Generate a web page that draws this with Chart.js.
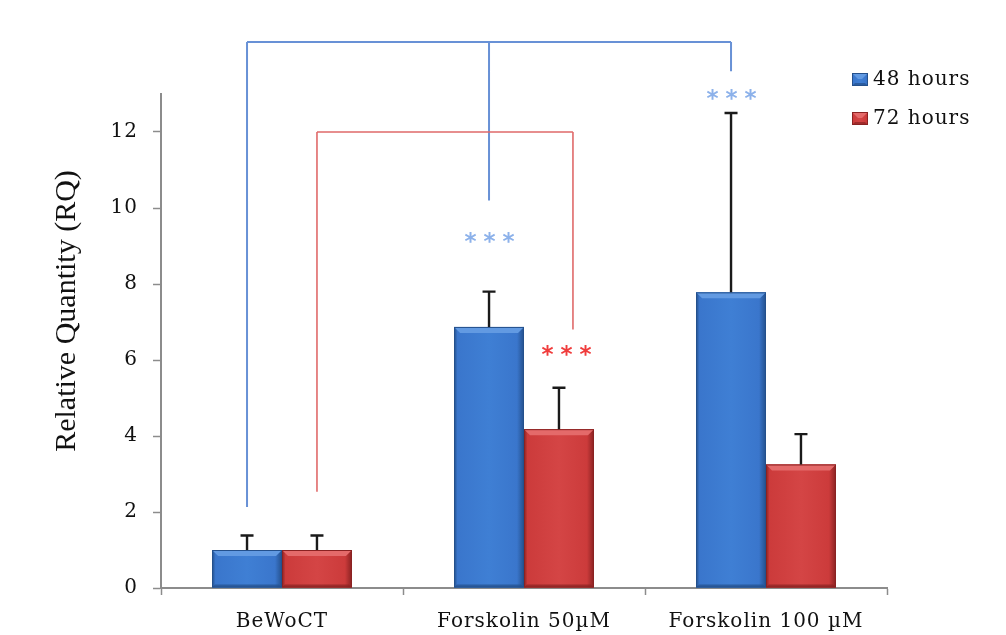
<!DOCTYPE html>
<html><head><meta charset="utf-8">
<script src="https://cdn.jsdelivr.net/npm/chart.js@4.4.0/dist/chart.umd.min.js"></script>
<style>html,body{margin:0;padding:0;background:#fff;overflow:hidden}#wrap{width:1006px;height:635px}</style>
</head><body><div id="wrap"><canvas id="c" width="1006" height="635"></canvas></div>
<script>
// ---- data ----
const categories = ['BeWoCT', 'Forskolin 50\u00b5M', 'Forskolin 100 \u00b5M'];
const seriesNames = ['48 hours', '72 hours'];
const values48 = [1.0, 6.87, 7.78];
const values72 = [1.0, 4.18, 3.25];
const err48 = [0.38, 0.93, 4.72];
const err72 = [0.38, 1.09, 0.80];
const yTicks = [0, 2, 4, 6, 8, 10, 12];
const yTitle = 'Relative Quantity (RQ)';
// significance brackets (value units): dataset, category legs
const bracketBlueTop = 14.37;
const bracketBlueLegs = [[0, 2.13], [1, 10.2], [2, 13.6]];
const bracketRedTop = 12.0;
const bracketRedLegs = [[0, 2.53], [1, 6.8]];
const starMarks = [[0, 1, 9.26], [0, 2, 13.03], [1, 1, 6.29]];

const palette = {
  blue: {mid:'#3a76cc', light:'#3f7fd4', dark:'#24508c', top:'#629ae2'},
  red:  {mid:'#cc3b3b', light:'#d44545', dark:'#8a2222', top:'#e46a6a'}
};
const errors = [err48, err72];
const values = [values48, values72];
const cols = [palette.blue, palette.red];

function bodyGrad(ctx, l, r, c) {
  const g = ctx.createLinearGradient(l, 0, r, 0);
  g.addColorStop(0, c.dark); g.addColorStop(0.05, c.mid);
  g.addColorStop(0.5, c.light); g.addColorStop(0.9, c.mid); g.addColorStop(1, c.dark);
  return g;
}
function drawBevelBar(ctx, l, r, t, b, c) {
  ctx.save();
  ctx.fillStyle = bodyGrad(ctx, l, r, c);
  ctx.fillRect(l, t, r - l, b - t);
  const bv = 6;
  ctx.beginPath();
  ctx.moveTo(l, t); ctx.lineTo(r, t); ctx.lineTo(r - bv, t + bv); ctx.lineTo(l + bv, t + bv); ctx.closePath();
  ctx.fillStyle = c.top; ctx.fill();
  ctx.beginPath();
  ctx.moveTo(l, b); ctx.lineTo(r, b); ctx.lineTo(r - 3, b - 3); ctx.lineTo(l + 3, b - 3); ctx.closePath();
  ctx.fillStyle = c.dark; ctx.globalAlpha = 0.7; ctx.fill();
  ctx.globalAlpha = 1;
  ctx.strokeStyle = c.dark; ctx.lineWidth = 1;
  ctx.strokeRect(l + 0.5, t + 0.5, r - l - 1, b - t - 1);
  ctx.restore();
}

const decor = {
  id: 'decor',
  beforeDraw(chart) { try { chart.ctx.letterSpacing = '1px'; } catch (e) {} },
  afterDatasetsDraw(chart) {
    const ctx = chart.ctx, y = chart.scales.y;
    for (let d = 0; d < 2; d++) {
      chart.getDatasetMeta(d).data.forEach(el => {
        drawBevelBar(ctx, el.x - el.width / 2, el.x + el.width / 2, el.y, el.base, cols[d]);
      });
    }
    ctx.save();
    ctx.strokeStyle = '#1a1a1a'; ctx.lineWidth = 2.4;
    for (let d = 0; d < 2; d++) {
      chart.getDatasetMeta(d).data.forEach((el, j) => {
        const yt = y.getPixelForValue(values[d][j] + errors[d][j]);
        ctx.beginPath();
        ctx.moveTo(el.x, el.y); ctx.lineTo(el.x, yt);
        ctx.moveTo(el.x - 6.5, yt); ctx.lineTo(el.x + 6.5, yt);
        ctx.stroke();
      });
    }
    ctx.restore();
  },
  afterDraw(chart) {
    const ctx = chart.ctx, y = chart.scales.y;
    const m0 = chart.getDatasetMeta(0).data, m1 = chart.getDatasetMeta(1).data;
    ctx.save();
    try { ctx.letterSpacing = '0px'; } catch (e) {}
    ctx.strokeStyle = '#6891d6'; ctx.lineWidth = 2;
    const yb = y.getPixelForValue(bracketBlueTop);
    ctx.beginPath();
    ctx.moveTo(m0[bracketBlueLegs[0][0]].x, yb);
    ctx.lineTo(m0[bracketBlueLegs[bracketBlueLegs.length - 1][0]].x, yb);
    bracketBlueLegs.forEach(([i, v]) => { ctx.moveTo(m0[i].x, yb); ctx.lineTo(m0[i].x, y.getPixelForValue(v)); });
    ctx.stroke();
    ctx.strokeStyle = '#e06a6a'; ctx.lineWidth = 1.6;
    const yr = y.getPixelForValue(bracketRedTop);
    const rx = bracketRedLegs.map(([i]) => m1[i].x + (i > 0 ? m1[i].width * 0.2 : 0));
    ctx.beginPath();
    ctx.moveTo(rx[0], yr); ctx.lineTo(rx[rx.length - 1], yr);
    bracketRedLegs.forEach(([i, v], k) => { ctx.moveTo(rx[k], yr); ctx.lineTo(rx[k], y.getPixelForValue(v)); });
    ctx.stroke();
    // stars
    ctx.font = 'bold 23px "DejaVu Sans"';
    ctx.textAlign = 'center'; ctx.textBaseline = 'alphabetic';
    try { ctx.letterSpacing = '7px'; } catch (e) {}
    starMarks.forEach(([d, i, v]) => {
      const el = chart.getDatasetMeta(d).data[i];
      const x = el.x + (d === 1 ? el.width * 0.1 : 0) + 4;
      ctx.fillStyle = d === 0 ? '#8cb1ea' : '#f03c3c';
      ctx.fillText('***', x, y.getPixelForValue(v) + 13);
    });
    // y title
    try { ctx.letterSpacing = '0px'; } catch (e) {}
    ctx.save();
    ctx.translate(67, 311); ctx.rotate(-Math.PI / 2);
    ctx.font = '30px "Liberation Serif"'; ctx.fillStyle = '#111';
    ctx.textAlign = 'center'; ctx.textBaseline = 'middle';
    ctx.fillText(yTitle, 0, 0);
    ctx.restore();
    // legend
    try { ctx.letterSpacing = '1px'; } catch (e) {}
    ctx.font = '20px "DejaVu Serif"'; ctx.textAlign = 'left'; ctx.textBaseline = 'middle';
    const lx = 852, ly = [79, 118];
    for (let d = 0; d < 2; d++) {
      drawBevelBar(ctx, lx, lx + 16, ly[d] - 6, ly[d] + 7, cols[d]);
      ctx.fillStyle = '#111';
      ctx.fillText(seriesNames[d], lx + 21, ly[d] + 1);
    }
    ctx.restore();
  }
};

new Chart(document.getElementById('c'), {
  type: 'bar',
  data: {
    labels: categories,
    datasets: [
      {label: seriesNames[0], data: values48, backgroundColor: palette.blue.mid, borderWidth: 0},
      {label: seriesNames[1], data: values72, backgroundColor: palette.red.mid, borderWidth: 0}
    ]
  },
  options: {
    responsive: false, animation: false, devicePixelRatio: 1,
    layout: {padding: {left: 0, top: 94, right: 119, bottom: 0}},
    datasets: {bar: {barPercentage: 1, categoryPercentage: 0.578}},
    plugins: {legend: {display: false}, tooltip: {enabled: false}, title: {display: false}},
    scales: {
      x: {
        grid: {display: true, drawOnChartArea: false, offset: true, color: '#8c8c8c', tickLength: 7, tickWidth: 1.5},
        border: {color: '#8c8c8c', width: 2},
        ticks: {font: {family: 'DejaVu Serif', size: 20}, color: '#111', padding: 15, maxRotation: 0, autoSkip: false},
        afterFit(s) { s.height = 47; }
      },
      y: {
        min: 0, max: 13,
        afterBuildTicks(s) { s.ticks = yTicks.map(v => ({value: v})); },
        ticks: {font: {family: 'DejaVu Serif', size: 20}, color: '#111', padding: 15},
        grid: {drawOnChartArea: false, color: '#8c8c8c', tickLength: 8, tickWidth: 1.5},
        border: {color: '#8c8c8c', width: 2},
        afterFit(s) { s.width = 161; }
      }
    }
  },
  plugins: [decor]
});
</script></body></html>
